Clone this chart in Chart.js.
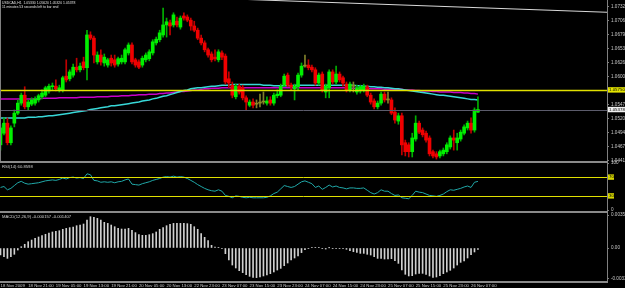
<!DOCTYPE html>
<html>
<head>
<meta charset="utf-8">
<script src="https://cdn.jsdelivr.net/npm/chart.js@4.4.0/dist/chart.umd.min.js"></script>
<style>
  html, body { margin: 0; padding: 0; background: #000; }
  body { width: 625px; height: 288px; position: relative; overflow: hidden; }
  canvas { position: absolute; left: 0; }
</style>
</head>
<body>
<canvas id="main" width="625" height="163" style="top:0px"></canvas>
<canvas id="rsi" width="625" height="56" style="top:158px"></canvas>
<canvas id="macd" width="625" height="80" style="top:208px"></canvas>
<script>
// USDCAD H1 bars
const barOpen = [1.0471,1.0493,1.0512,1.0475,1.0512,1.0531,1.0550,1.0565,1.0543,1.0548,
  1.0550,1.0556,1.0562,1.0565,1.0573,1.0581,1.0582,1.0575,1.0575,1.0601,
  1.0596,1.0603,1.0618,1.0613,1.0628,1.0617,1.0679,1.0673,1.0628,1.0641,
  1.0626,1.0622,1.0635,1.0632,1.0624,1.0628,1.0628,1.0645,1.0660,1.0632,
  1.0628,1.0622,1.0632,1.0634,1.0645,1.0664,1.0670,1.0679,1.0698,1.0702,
  1.0698,1.0705,1.0694,1.0715,1.0713,1.0707,1.0696,1.0688,1.0673,1.0664,
  1.0651,1.0643,1.0637,1.0632,1.0645,1.0639,1.0596,1.0584,1.0562,1.0582,
  1.0579,1.0560,1.0546,1.0552,1.0548,1.0550,1.0552,1.0550,1.0556,1.0550,
  1.0564,1.0565,1.0584,1.0603,1.0584,1.0577,1.0581,1.0603,1.0620,1.0622,
  1.0618,1.0613,1.0588,1.0605,1.0571,1.0579,1.0609,1.0590,1.0605,1.0598,
  1.0586,1.0575,1.0582,1.0571,1.0573,1.0575,1.0581,1.0565,1.0554,1.0543,
  1.0550,1.0567,1.0556,1.0556,1.0533,1.0516,1.0526,1.0475,1.0471,1.0458,
  1.0482,1.0512,1.0499,1.0493,1.0484,1.0458,1.0454,1.0450,1.0454,1.0458,
  1.0467,1.0484,1.0475,1.0482,1.0493,1.0503,1.0512,1.0499,1.0533];
const barHigh = [1.0509,1.0522,1.0522,1.0507,1.0537,1.0556,1.0569,1.0581,1.0556,1.0560,
  1.0562,1.0567,1.0575,1.0582,1.0586,1.0588,1.0594,1.0584,1.0601,1.0632,
  1.0613,1.0624,1.0635,1.0626,1.0637,1.0688,1.0685,1.0677,1.0647,1.0651,
  1.0643,1.0635,1.0641,1.0641,1.0637,1.0641,1.0654,1.0664,1.0664,1.0635,
  1.0632,1.0639,1.0645,1.0651,1.0670,1.0675,1.0688,1.0730,1.0711,1.0707,
  1.0721,1.0713,1.0715,1.0721,1.0717,1.0711,1.0705,1.0692,1.0679,1.0668,
  1.0654,1.0647,1.0651,1.0651,1.0649,1.0643,1.0609,1.0590,1.0586,1.0586,
  1.0584,1.0564,1.0556,1.0558,1.0556,1.0567,1.0571,1.0562,1.0562,1.0569,
  1.0575,1.0586,1.0605,1.0607,1.0588,1.0586,1.0607,1.0626,1.0641,1.0632,
  1.0622,1.0617,1.0607,1.0609,1.0586,1.0613,1.0613,1.0620,1.0609,1.0601,
  1.0590,1.0590,1.0590,1.0584,1.0584,1.0586,1.0584,1.0569,1.0558,1.0554,
  1.0571,1.0571,1.0571,1.0560,1.0541,1.0531,1.0531,1.0480,1.0475,1.0493,
  1.0526,1.0516,1.0503,1.0497,1.0488,1.0461,1.0458,1.0461,1.0465,1.0475,
  1.0488,1.0499,1.0493,1.0499,1.0509,1.0516,1.0522,1.0541,1.0562];
const barLow = [1.0461,1.0490,1.0471,1.0471,1.0505,1.0528,1.0546,1.0539,1.0537,1.0545,
  1.0546,1.0552,1.0558,1.0562,1.0569,1.0575,1.0573,1.0571,1.0571,1.0590,
  1.0592,1.0599,1.0609,1.0609,1.0613,1.0594,1.0670,1.0626,1.0624,1.0622,
  1.0620,1.0618,1.0620,1.0618,1.0620,1.0624,1.0624,1.0641,1.0624,1.0618,
  1.0615,1.0618,1.0628,1.0630,1.0641,1.0660,1.0666,1.0675,1.0675,1.0679,
  1.0694,1.0694,1.0690,1.0707,1.0704,1.0688,1.0685,1.0670,1.0660,1.0647,
  1.0637,1.0628,1.0630,1.0628,1.0632,1.0586,1.0579,1.0560,1.0558,1.0567,
  1.0556,1.0537,1.0543,1.0541,1.0541,1.0543,1.0548,1.0546,1.0546,1.0546,
  1.0560,1.0562,1.0581,1.0581,1.0575,1.0556,1.0575,1.0599,1.0618,1.0613,
  1.0609,1.0584,1.0584,1.0571,1.0560,1.0560,1.0586,1.0586,1.0590,1.0582,
  1.0571,1.0571,1.0571,1.0567,1.0569,1.0571,1.0562,1.0548,1.0539,1.0539,
  1.0546,1.0552,1.0550,1.0528,1.0512,1.0510,1.0452,1.0450,1.0448,1.0448,
  1.0478,1.0492,1.0486,1.0476,1.0450,1.0446,1.0444,1.0446,1.0450,1.0454,
  1.0463,1.0461,1.0461,1.0478,1.0490,1.0499,1.0493,1.0495,1.0532];
const barClose = [1.0503,1.0512,1.0475,1.0503,1.0531,1.0550,1.0565,1.0543,1.0552,1.0556,
  1.0558,1.0564,1.0569,1.0579,1.0582,1.0582,1.0577,1.0579,1.0598,1.0594,
  1.0609,1.0618,1.0613,1.0620,1.0617,1.0679,1.0673,1.0641,1.0641,1.0628,
  1.0637,1.0632,1.0626,1.0622,1.0634,1.0635,1.0651,1.0660,1.0628,1.0622,
  1.0618,1.0635,1.0641,1.0647,1.0666,1.0671,1.0683,1.0698,1.0704,1.0696,
  1.0717,1.0698,1.0711,1.0711,1.0707,1.0696,1.0688,1.0673,1.0664,1.0651,
  1.0641,1.0632,1.0634,1.0647,1.0637,1.0590,1.0588,1.0565,1.0582,1.0571,
  1.0560,1.0552,1.0552,1.0546,1.0548,1.0550,1.0552,1.0554,1.0550,1.0565,
  1.0567,1.0582,1.0601,1.0584,1.0581,1.0582,1.0603,1.0620,1.0620,1.0617,
  1.0613,1.0588,1.0603,1.0575,1.0582,1.0609,1.0590,1.0605,1.0594,1.0588,
  1.0575,1.0586,1.0582,1.0579,1.0581,1.0582,1.0565,1.0552,1.0543,1.0550,
  1.0567,1.0556,1.0556,1.0531,1.0518,1.0526,1.0471,1.0458,1.0458,1.0484,
  1.0512,1.0495,1.0490,1.0480,1.0454,1.0450,1.0448,1.0458,1.0461,1.0471,
  1.0484,1.0480,1.0484,1.0495,1.0505,1.0512,1.0499,1.0537,1.05378];

// moving averages (cyan = faster, magenta = slower)
const maFast = [1.0522,1.0522,1.0522,1.0522,1.0522,1.0522,1.0522,1.0522,1.0523,1.0523,
  1.0523,1.0524,1.0524,1.0525,1.0526,1.0526,1.0527,1.0528,1.0529,1.0530,
  1.0531,1.0532,1.0533,1.0534,1.0535,1.0536,1.0538,1.0539,1.0540,1.0541,
  1.0542,1.0543,1.0545,1.0545,1.0546,1.0547,1.0548,1.0549,1.0550,1.0551,
  1.0552,1.0554,1.0555,1.0556,1.0558,1.0559,1.0561,1.0563,1.0564,1.0566,
  1.0568,1.0570,1.0572,1.0574,1.0575,1.0577,1.0578,1.0579,1.0579,1.0580,
  1.0581,1.0582,1.0582,1.0583,1.0584,1.0584,1.0584,1.0585,1.0585,1.0585,
  1.0585,1.0585,1.0585,1.0585,1.0585,1.0585,1.0584,1.0584,1.0584,1.0583,
  1.0583,1.0583,1.0583,1.0583,1.0583,1.0584,1.0584,1.0584,1.0584,1.0584,
  1.0584,1.0584,1.0584,1.0584,1.0584,1.0584,1.0584,1.0584,1.0584,1.0584,
  1.0584,1.0584,1.0584,1.0583,1.0583,1.0582,1.0582,1.0581,1.0581,1.0580,
  1.0580,1.0579,1.0579,1.0578,1.0577,1.0577,1.0576,1.0575,1.0574,1.0573,
  1.0572,1.0571,1.0570,1.0569,1.0568,1.0567,1.0566,1.0565,1.0565,1.0564,
  1.0563,1.0562,1.0561,1.0560,1.0559,1.0558,1.0557,1.0557,1.0556];
const maSlow = [1.0558,1.0558,1.0558,1.0558,1.0558,1.0558,1.0558,1.0558,1.0558,1.0558,
  1.0558,1.0558,1.0559,1.0559,1.0559,1.0559,1.0559,1.0560,1.0560,1.0560,
  1.0560,1.0560,1.0560,1.0561,1.0561,1.0561,1.0561,1.0561,1.0562,1.0562,
  1.0562,1.0562,1.0563,1.0563,1.0563,1.0564,1.0564,1.0564,1.0565,1.0565,
  1.0566,1.0566,1.0566,1.0567,1.0567,1.0567,1.0568,1.0568,1.0569,1.0569,
  1.0570,1.0571,1.0572,1.0572,1.0573,1.0574,1.0575,1.0575,1.0576,1.0577,
  1.0577,1.0578,1.0578,1.0578,1.0579,1.0579,1.0579,1.0579,1.0579,1.0579,
  1.0579,1.0579,1.0579,1.0579,1.0579,1.0579,1.0579,1.0579,1.0579,1.0579,
  1.0579,1.0579,1.0579,1.0579,1.0579,1.0579,1.0579,1.0579,1.0579,1.0579,
  1.0579,1.0579,1.0579,1.0579,1.0579,1.0579,1.0579,1.0579,1.0579,1.0579,
  1.0579,1.0578,1.0578,1.0578,1.0578,1.0578,1.0577,1.0577,1.0577,1.0577,
  1.0577,1.0576,1.0576,1.0576,1.0576,1.0576,1.0576,1.0575,1.0575,1.0575,
  1.0574,1.0574,1.0573,1.0573,1.0573,1.0572,1.0572,1.0571,1.0571,1.0571,
  1.0571,1.0570,1.0570,1.0570,1.0569,1.0569,1.0568,1.0568,1.0567];

const rsiValues = [48,50,43,46,52,58,61,57,55,56,
  57,58,60,62,63,64,63,65,68,66,
  69,70,68,69,67,77,75,63,62,59,
  60,59,60,58,60,61,64,66,55,54,
  53,56,58,60,63,65,67,70,71,70,
  72,70,71,70,67,63,59,54,50,46,
  43,41,40,43,40,31,29,26,30,29,
  27,26,27,26,26,26,26,27,30,35,
  38,45,52,50,48,50,55,60,62,59,
  56,48,51,44,48,53,49,51,48,47,
  45,47,47,46,46,47,42,37,34,37,
  43,40,40,35,31,32,26,25,24,31,
  40,38,37,34,31,30,29,31,34,39,
  43,42,44,46,49,51,48,59,60.8598];

const macdValues = [-0.00076,-0.00094,-0.00112,-0.00094,-0.00068,-0.00022,0.00014,0.00040,0.00068,0.00086,
  0.00104,0.00119,0.00133,0.00148,0.00162,0.00173,0.00180,0.00187,0.00202,0.00212,
  0.00220,0.00227,0.00241,0.00248,0.00259,0.00302,0.00338,0.00331,0.00320,0.00302,
  0.00277,0.00266,0.00248,0.00230,0.00212,0.00205,0.00205,0.00212,0.00191,0.00166,
  0.00144,0.00137,0.00137,0.00144,0.00155,0.00173,0.00202,0.00220,0.00241,0.00256,
  0.00266,0.00266,0.00266,0.00266,0.00263,0.00256,0.00230,0.00202,0.00155,0.00115,
  0.00079,0.00029,0.00011,0.00004,-0.00007,-0.00061,-0.00130,-0.00184,-0.00216,-0.00245,
  -0.00266,-0.00288,-0.00306,-0.00317,-0.00320,-0.00313,-0.00302,-0.00292,-0.00277,-0.00259,
  -0.00238,-0.00220,-0.00191,-0.00162,-0.00130,-0.00108,-0.00086,-0.00050,-0.00018,-0.00004,
  0.00007,0.00004,0.00004,-0.00004,-0.00011,0.00002,-0.00004,-0.00004,-0.00004,-0.00007,
  -0.00014,-0.00029,-0.00040,-0.00047,-0.00058,-0.00058,-0.00068,-0.00076,-0.00094,-0.00112,
  -0.00112,-0.00119,-0.00119,-0.00115,-0.00137,-0.00166,-0.00238,-0.00284,-0.00302,-0.00299,
  -0.00281,-0.00274,-0.00274,-0.00284,-0.00302,-0.00317,-0.00313,-0.00299,-0.00277,-0.00259,
  -0.00241,-0.00216,-0.00184,-0.00155,-0.00140,-0.00108,-0.00072,-0.00043,-0.000157];

const priceTicks = [1.07325,1.07060,1.06795,1.06530,1.06265,1.06000,1.05735,1.05470,1.05205,1.04940,1.04675,1.04410];
const rsiTicks = [100, 70, 30, 0];
const rsiLevels = [70, 30];
const macdTicks = [0.003552, 0, -0.003304];
const xTickLabels = ["18 Nov 2009","18 Nov 21:00","19 Nov 05:00","19 Nov 13:00","19 Nov 21:00","20 Nov 05:00",
  "20 Nov 13:00","22 Nov 23:00","23 Nov 07:00","23 Nov 15:00","23 Nov 23:00","24 Nov 07:00",
  "24 Nov 15:00","24 Nov 23:00","25 Nov 07:00","25 Nov 15:00","25 Nov 23:00","26 Nov 07:00"];
const xTickStep = 8;

const levelPrice = 1.05750;   // yellow horizontal line
const trendLine = [{ x: 60, y: 1.07488 }, { x: 176, y: 1.07218 }];
const rsiLabel = "RSI(14) 60.8598";
const macdLabel = "MACD(12,26,9) -0.000157 -0.001407";
const timerLabel = "11 minutes 53 seconds left to bar end";

// axis ranges
const X_MIN = -0.145, X_MAX = 175.3;
const PRICE_MIN = 1.04404, PRICE_MAX = 1.07452;
const MACD_MIN = -0.003564, MACD_MAX = 0.00378;

const FONT = '"Liberation Sans", Arial, sans-serif';
Chart.defaults.font.family = FONT;

const n = barOpen.length;
const idx = barOpen.map((_, i) => i);
const last = n - 1;
const dir = idx.map(i => barClose[i] > barOpen[i] ? 1 : (barClose[i] < barOpen[i] ? -1 : 0));
const bodyColor = dir.map(d => d > 0 ? '#00f000' : (d < 0 ? '#f00000' : '#8c8c28'));
const wickColor = dir.map(d => d > 0 ? '#00b000' : (d < 0 ? '#c00000' : '#80802a'));

function xScale(show) {
  return {
    type: 'linear', min: X_MIN, max: X_MAX, offset: false, bounds: 'data', display: show,
    grid: { display: show, drawOnChartArea: false, offset: false, drawTicks: true, tickLength: 2, color: '#808080' },
    border: { display: false },
    afterBuildTicks: s => { s.ticks = xTickLabels.map((_, k) => ({ value: k * xTickStep })); },
    afterFit: s => {
      s.height = show ? 7 : 0;
      s.paddingLeft = 0;
      s.paddingRight = 0;
    },
    ticks: {
      autoSkip: false, maxRotation: 0, minRotation: 0, align: 'start', padding: 0,
      color: '#c8c8c8', font: { size: 4.3 },
      callback: (v, k) => xTickLabels[k]
    }
  };
}

function yScale(min, max, ticks, fmt) {
  return {
    type: 'linear', position: 'right', min: min, max: max, bounds: 'data', beginAtZero: false,
    grid: { drawOnChartArea: false, drawTicks: true, tickLength: 2, color: '#808080' },
    border: { display: true, color: '#808080', width: 1 },
    afterBuildTicks: s => { s.ticks = ticks.map(v => ({ value: v })); },
    afterFit: s => { s.width = 18; s.paddingTop = 0; s.paddingBottom = 0; },
    ticks: { autoSkip: false, padding: 2, color: '#c8c8c8', font: { size: 4.6 }, callback: fmt }
  };
}

function txt(ctx, s, x, y, size, color) {
  ctx.save();
  ctx.font = size + 'px ' + FONT;
  ctx.fillStyle = color;
  ctx.textBaseline = 'top';
  ctx.textAlign = 'left';
  ctx.fillText(s, x, y);
  ctx.restore();
}

function separator(chart, off) {
  const { ctx, chartArea } = chart;
  ctx.save();
  ctx.fillStyle = '#8a8a8a';
  ctx.fillRect(0, Math.round(chartArea.bottom) + off, Math.round(chartArea.right) + 1, 2);
  ctx.restore();
}

function hLine(chart, value, color, width) {
  const { ctx, chartArea, scales } = chart;
  const y = Math.round(scales.y.getPixelForValue(value)) + 0.5;
  ctx.save();
  ctx.strokeStyle = color;
  ctx.lineWidth = width;
  ctx.beginPath();
  ctx.moveTo(chartArea.left, y);
  ctx.lineTo(chartArea.right, y);
  ctx.stroke();
  ctx.restore();
}

function axisBox(chart, value, label, bg, w) {
  const { ctx, chartArea, scales } = chart;
  const y = scales.y.getPixelForValue(value);
  ctx.save();
  ctx.fillStyle = bg;
  ctx.fillRect(chartArea.right + 1, y - 2.7, w, 5.4);
  ctx.restore();
  txt(ctx, label, chartArea.right + 2, y - 2.3, 4.4, '#000');
}

const mainDecor = {
  id: 'mainDecor',
  afterDatasetsDraw(chart) {
    hLine(chart, barClose[last], '#5c5c6c', 1);
    hLine(chart, levelPrice, '#e0e000', 1.5);
  },
  afterDraw(chart) {
    const ctx = chart.ctx;
    ctx.save();
    ctx.fillStyle = '#808080';
    ctx.fillRect(0, 0, 1, chart.chartArea.bottom);
    ctx.restore();
    separator(chart, 0);
    axisBox(chart, levelPrice, levelPrice.toFixed(5), '#e6e600', 18);
    axisBox(chart, barClose[last], barClose[last].toFixed(5), '#f0f0f0', 18);
    const head = 'USDCAD,H1  ' + [barOpen[last], barHigh[last], barLow[last], barClose[last]].map(v => v.toFixed(5)).join(' ');
    txt(ctx, head, 2, 1.5, 3.4, '#e0e0e0');
    txt(ctx, timerLabel, 2, 5.6, 3.4, '#e0e0e0');
  }
};

const rsiDecor = {
  id: 'rsiDecor',
  afterDatasetsDraw(chart) {
    rsiLevels.forEach(v => hLine(chart, v, '#e0e000', 1));
  },
  afterDraw(chart) {
    separator(chart, 1);
    rsiLevels.forEach(v => axisBox(chart, v, String(v), '#d8d800', 6));
    txt(chart.ctx, rsiLabel, 2, 7, 4.2, '#d0d0d0');
  }
};

const macdDecor = {
  id: 'macdDecor',
  afterDraw(chart) {
    separator(chart, 0);
    txt(chart.ctx, macdLabel, 2, 7, 4.2, '#d0d0d0');
  }
};

const common = {
  responsive: false,
  animation: false,
  events: [],
  plugins: { legend: { display: false }, tooltip: { enabled: false } }
};

new Chart(document.getElementById('main'), {
  type: 'bar',
  data: {
    datasets: [
      { type: 'line', data: idx.map(i => ({ x: i, y: maSlow[i] })), borderColor: '#c800c8', borderWidth: 1.5, pointRadius: 0, clip: 0, order: 6 },
      { type: 'line', data: idx.map(i => ({ x: i, y: maFast[i] })), borderColor: '#38d8d8', borderWidth: 1.5, pointRadius: 0, clip: 0, order: 5 },
      { type: 'bar', data: idx.map(i => ({ x: i, y: [barLow[i], barHigh[i]] })), backgroundColor: wickColor, barThickness: 1, grouped: false, order: 3 },
      { type: 'bar', data: idx.map(i => ({ x: i, y: [Math.min(barOpen[i], barClose[i]), Math.max(barOpen[i], barClose[i])] })),
        backgroundColor: bodyColor, barThickness: 3, minBarLength: 1, grouped: false, order: 2 },
      { type: 'line', data: trendLine, borderColor: '#d8d8d8', borderWidth: 1, pointRadius: 0, clip: 0, order: 1 }
    ]
  },
  options: Object.assign({}, common, {
    layout: { padding: { left: 0, right: 0, top: 0, bottom: 2 } },
    scales: { x: xScale(false), y: yScale(PRICE_MIN, PRICE_MAX, priceTicks, v => v.toFixed(5)) }
  }),
  plugins: [mainDecor]
});

new Chart(document.getElementById('rsi'), {
  type: 'line',
  data: {
    datasets: [
      { data: idx.map(i => ({ x: i, y: rsiValues[i] })), borderColor: '#20a8a8', borderWidth: 1, pointRadius: 0, clip: 0 }
    ]
  },
  options: Object.assign({}, common, {
    layout: { padding: { left: 0, right: 0, top: 5, bottom: 4 } },
    scales: { x: xScale(false), y: yScale(0, 100, rsiTicks, v => rsiLevels.includes(v) ? '' : String(v)) }
  }),
  plugins: [rsiDecor]
});

new Chart(document.getElementById('macd'), {
  type: 'bar',
  data: {
    datasets: [
      { data: idx.map(i => ({ x: i, y: macdValues[i] })), backgroundColor: '#d0d0d0', barThickness: 1, grouped: false }
    ]
  },
  options: Object.assign({}, common, {
    layout: { padding: { left: 0, right: 0, top: 5, bottom: 0 } },
    scales: { x: xScale(true), y: yScale(MACD_MIN, MACD_MAX, macdTicks, v => v === 0 ? '0.00' : v.toFixed(6)) }
  }),
  plugins: [macdDecor]
});
</script>
</body>
</html>
